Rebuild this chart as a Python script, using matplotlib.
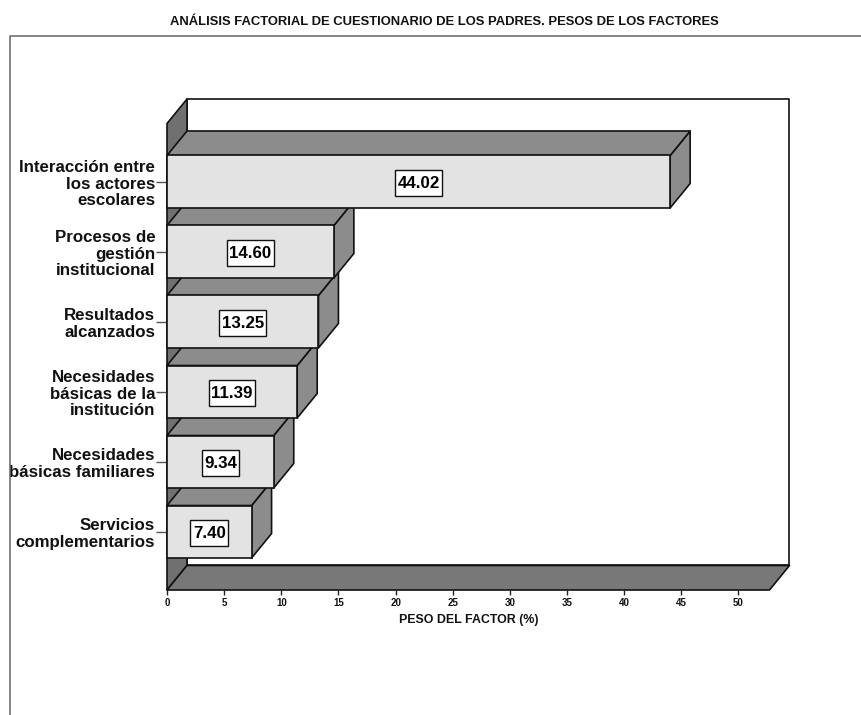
import matplotlib
matplotlib.use("Agg")
import matplotlib.pyplot as plt
from matplotlib.lines import Line2D
from matplotlib.patches import Polygon
from matplotlib.path import Path

plt.rcParams['font.family'] = ['Liberation Sans', 'DejaVu Sans']

categories = ["Interacción entre\nlos actores\nescolares",
              "Procesos de\ngestión\ninstitucional",
              "Resultados\nalcanzados",
              "Necesidades\nbásicas de la\ninstitución",
              "Necesidades\nbásicas familiares",
              "Servicios\ncomplementarios"]
values = [44.02, 14.60, 13.25, 11.39, 9.34, 7.40]
xticks = list(range(0, 55, 5))
title = "ANÁLISIS FACTORIAL DE CUESTIONARIO DE LOS PADRES. PESOS DE LOS FACTORES"
xlabel = "PESO DEL FACTOR (%)"

W, H = 862, 715
fig = plt.figure(figsize=(W / 100, H / 100), dpi=100)
ax = fig.add_axes([167 / W, 1 - 590 / H, (769.5 - 167) / W, (590 - 123.5) / H])
xmax = (769.5 - 167) / 11.43
ax.set_xlim(0, xmax)
ax.set_ylim(5.832, -0.832)
for s in ax.spines.values():
    s.set_visible(False)
ax.patch.set_visible(False)

dx, dy = 20 / 11.43, -24.5 / 70
ytop, ybot = -0.832, 5.832
H_BAR = 0.75
EC = '#111111'
LW = 1.2


def face(pts, color, z):
    ax.add_patch(Polygon(pts, closed=True, facecolor=color, edgecolor=EC, lw=LW,
                         joinstyle='round', clip_on=False, zorder=z))


def label_box(x0, y0, w, h, mutation_size):
    # box wider in height than in width, as the value labels of the original
    px, py = 0.14 * mutation_size, 0.33 * mutation_size
    x1, y1 = x0 + w + px, y0 + h + py
    a, b = x0 - px, y0 - py
    return Path([(a, b), (x1, b), (x1, y1), (a, y1), (a, b)],
                [Path.MOVETO, Path.LINETO, Path.LINETO, Path.LINETO, Path.CLOSEPOLY])


# back wall, left wall, floor
face([(dx, ytop + dy), (xmax + dx, ytop + dy), (xmax + dx, ybot + dy), (dx, ybot + dy)], 'white', 1)
face([(0, ytop), (dx, ytop + dy), (dx, ybot + dy), (0, ybot)], '#707070', 1.1)
face([(0, ybot), (dx, ybot + dy), (xmax + dx, ybot + dy), (xmax, ybot)], '#787878', 1.2)

# bars, drawn from the lowest up so each front covers the next one's top
n = len(values)
for i in range(n - 1, -1, -1):
    v = values[i]
    t, b = i - H_BAR / 2, i + H_BAR / 2
    z = 2 + (n - i) * 0.1
    face([(v, t), (v + dx, t + dy), (v + dx, b + dy), (v, b)], '#8c8c8c', z)
    face([(0, t), (dx, t + dy), (v + dx, t + dy), (v, t)], '#8c8c8c', z)
    ax.barh(i, v, height=H_BAR, color='#e3e3e3', edgecolor=EC, lw=LW, zorder=z + 0.01, clip_on=False)
    ax.text(v / 2, i, f"{v:.2f}", ha='center', va='center_baseline', fontsize=12.2, fontweight='bold',
            color='black', zorder=5,
            bbox=dict(boxstyle=label_box, facecolor='white', edgecolor=EC, lw=1))

ax.set_yticks(range(n))
ax.set_yticklabels(categories, fontsize=12.2, fontweight='bold', linespacing=1.15, ha='right', color='#111111')
ax.tick_params(axis='y', length=8, width=1, color='#555555', pad=0.5)
ax.set_xticks(xticks)
ax.set_xticklabels([str(t) for t in xticks], fontsize=7, fontweight='bold', color='#111111')
ax.tick_params(axis='x', length=3.6, width=1, color='#222222', pad=2.2)

fig.text(469 / W, 1 - 620 / H, xlabel, ha='center', va='center', fontsize=8.9, fontweight='bold', color='#111111')
fig.text(444 / W, 1 - 22 / H, title, ha='center', va='center', fontsize=9.36, fontweight='bold', color='#111111')

# outer frame, open to the right and bottom
fig.add_artist(Line2D([10.5 / W, 10.5 / W, 1], [0, 1 - 36 / H, 1 - 36 / H], color='#666666', lw=1.1))

fig.savefig("out.png", dpi=100)
